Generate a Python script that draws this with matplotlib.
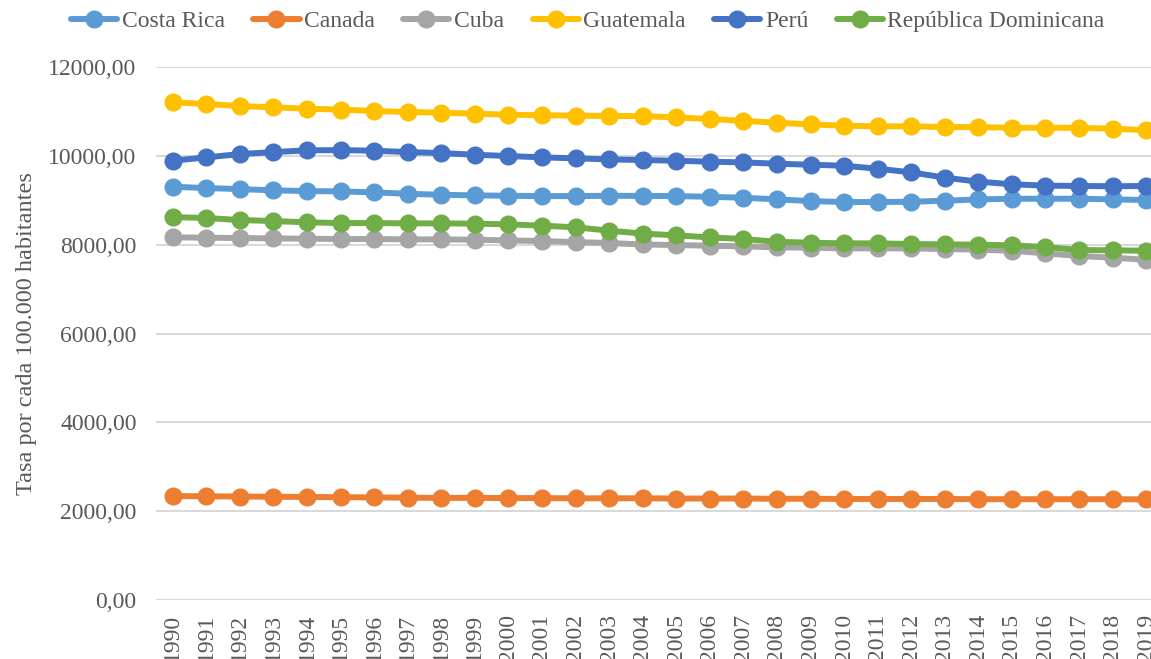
import matplotlib.pyplot as plt

plt.rcParams['font.family'] = ['Liberation Serif', 'DejaVu Serif']

years = [str(y) for y in range(1990, 2020)]

costa_rica = [9305, 9275, 9252, 9223, 9207, 9200, 9178, 9146, 9124, 9110,
              9101, 9094, 9094, 9101, 9098, 9094, 9079, 9056, 9020, 8982,
              8960, 8960, 8967, 8990, 9020, 9034, 9034, 9034, 9020, 9005]
canada = [2340, 2335, 2330, 2325, 2320, 2315, 2310, 2305, 2300, 2300,
          2295, 2295, 2290, 2290, 2290, 2285, 2285, 2285, 2280, 2280,
          2275, 2275, 2275, 2275, 2270, 2270, 2270, 2270, 2270, 2265]
cuba = [8165, 8157, 8150, 8142, 8134, 8127, 8127, 8120, 8120, 8112,
        8097, 8082, 8059, 8037, 8005, 7992, 7977, 7962, 7940, 7932,
        7917, 7917, 7917, 7902, 7887, 7864, 7805, 7745, 7707, 7660]
guatemala = [11205, 11167, 11122, 11093, 11062, 11040, 11010, 10988, 10972, 10950,
             10927, 10914, 10905, 10898, 10895, 10866, 10828, 10790, 10745, 10709,
             10678, 10664, 10664, 10648, 10648, 10632, 10632, 10632, 10610, 10580]
peru = [9890, 9966, 10040, 10085, 10124, 10130, 10115, 10085, 10063, 10025,
        9996, 9966, 9944, 9921, 9906, 9890, 9868, 9853, 9823, 9800,
        9778, 9710, 9629, 9509, 9419, 9360, 9329, 9322, 9315, 9322]
rep_dominicana = [8622, 8600, 8555, 8532, 8503, 8487, 8487, 8480, 8480, 8473,
                  8458, 8428, 8392, 8315, 8250, 8210, 8165, 8127, 8066, 8044,
                  8030, 8030, 8014, 8007, 7999, 7985, 7947, 7880, 7873, 7864]

series = [
    ('Costa Rica', costa_rica, '#5B9BD5'),
    ('Canada', canada, '#ED7D31'),
    ('Cuba', cuba, '#A5A5A5'),
    ('Guatemala', guatemala, '#FFC000'),
    ('Perú', peru, '#4472C4'),
    ('República Dominicana', rep_dominicana, '#70AD47'),
]

fig = plt.figure(figsize=(11.51, 6.59), dpi=100)
ax = fig.add_axes([0.1355, 0.0895, 0.8749, 0.8088])

x = range(len(years))
for name, vals, color in series:
    ax.plot(x, vals, color=color, lw=4.3, marker='o', ms=12, label=name,
            solid_capstyle='round')

ax.set_xlim(-0.5, len(years) - 0.5)
ax.set_ylim(0, 12000)
ax.set_yticks(range(0, 12001, 2000))
ax.set_yticklabels([f'{v:.2f}'.replace('.', ',') for v in range(0, 12001, 2000)])
ax.set_xticks(list(x))
ax.set_xticklabels(years, rotation=90)

ax.grid(axis='y', color='#d9d9d9', lw=1.5)
ax.set_axisbelow(True)
for s in ax.spines.values():
    s.set_visible(False)
ax.tick_params(axis='both', length=0, labelsize=17, colors='#595959')
ax.tick_params(axis='y', pad=14)
ax.tick_params(axis='x', pad=10)

ax.set_ylabel('Tasa por cada 100.000 habitantes', fontsize=17.5, color='#595959',
              labelpad=8)

fig.legend(loc='center', bbox_to_anchor=(588 / 1151, 1 - 21 / 659), ncol=6,
           frameon=False, fontsize=17, labelcolor='#595959', handlelength=1.95,
           handletextpad=0.2, columnspacing=1.2, borderaxespad=0)

fig.savefig('out.png', dpi=100)
